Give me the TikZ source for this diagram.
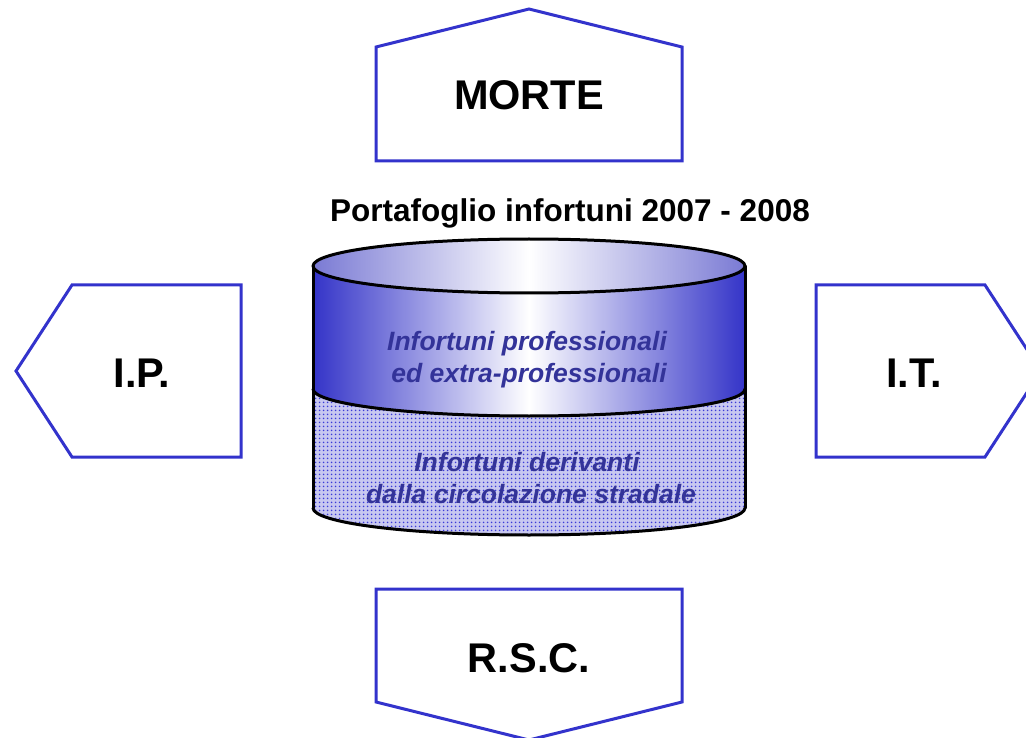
\documentclass[tikz,border=0pt]{standalone}
\usepackage{fontspec}
\setmainfont{Liberation Sans}
\usetikzlibrary{patterns.meta}
\definecolor{shapeblue}{HTML}{3333CC}
\definecolor{txtblue}{HTML}{333399}
\definecolor{capblue}{HTML}{7A7AD4}
\definecolor{bandblue}{HTML}{3434C8}
\definecolor{dotblue}{HTML}{3C3CD8}
\definecolor{dotbg}{HTML}{C8C8F0}
\begin{document}
\begin{tikzpicture}[x=1pt,y=-1pt,
  arrowbox/.style={draw=shapeblue,line width=3pt,fill=white,line join=miter},
  lbl/.style={font=\fontsize{41.5}{41.5}\selectfont\bfseries,anchor=base,inner sep=0pt},
  titletext/.style={font=\fontsize{31.5}{31.5}\selectfont\bfseries,anchor=base,inner sep=0pt},
  cyltext/.style={font=\fontsize{26.5}{30}\selectfont\bfseries\itshape,text=txtblue,anchor=base,inner sep=0pt},
  cylline/.style={draw=black,line width=3pt,line cap=round,line join=round}]
\useasboundingbox (0,0) rectangle (1026,738);
\clip (0,0) rectangle (1026,738);

% side shapes
\draw[arrowbox] (376,161) -- (376,47) -- (529,9) -- (682,47) -- (682,161) -- cycle;
\draw[arrowbox] (376,589) -- (682,589) -- (682,702) -- (529,740) -- (376,702) -- cycle;
\draw[arrowbox] (241,285) -- (72,285) -- (16,371) -- (72,457) -- (241,457) -- cycle;
\draw[arrowbox] (816,285) -- (985,285) -- (1041,371) -- (985,457) -- (816,457) -- cycle;

\node[lbl] (morte) at (529,110) {MORTE};
\node[lbl] (rsc) at (529,672) {R.S.C.};
\node[lbl] (ip) at (142,387) {I.P.};
\node[lbl] (it) at (914,387) {I.T.};

\node[titletext] (title) at (570,222) {Portafoglio infortuni 2007 - 2008};

% cylinder: lower body (dotted)
\fill[dotbg] (313,389) -- (313,508) arc[start angle=180,end angle=360,x radius=216pt,y radius=27pt]
  -- (745,389) arc[start angle=0,end angle=-180,x radius=216pt,y radius=27pt] -- cycle;
\fill[pattern={Dots[distance=4pt,radius=1.1pt]},pattern color=dotblue] (313,389) -- (313,508) arc[start angle=180,end angle=360,x radius=216pt,y radius=27pt]
  -- (745,389) arc[start angle=0,end angle=-180,x radius=216pt,y radius=27pt] -- cycle;
% band
\shade[left color=bandblue,right color=bandblue,middle color=white]
  (313,266) -- (313,389) arc[start angle=180,end angle=360,x radius=216pt,y radius=27pt]
  -- (745,266) arc[start angle=0,end angle=-180,x radius=216pt,y radius=27pt] -- cycle;
% top ellipse
\shade[left color=capblue,right color=capblue,middle color=white]
  (529,266) ellipse[x radius=216pt,y radius=27pt];
% outlines
\draw[cylline] (529,266) ellipse[x radius=216pt,y radius=27pt];
\draw[cylline] (313,266) -- (313,508);
\draw[cylline] (745,266) -- (745,508);
\draw[cylline] (313,389) arc[start angle=180,end angle=360,x radius=216pt,y radius=27pt];
\draw[cylline] (313,508) arc[start angle=180,end angle=360,x radius=216pt,y radius=27pt];

\node[cyltext] (p1) at (527,350) {Infortuni professionali};
\node[cyltext] (p2) at (529,382) {ed extra-professionali};
\node[cyltext] (c1) at (527,471) {Infortuni derivanti};
\node[cyltext] (c2) at (531,503) {dalla circolazione stradale};
\end{tikzpicture}
\end{document}
